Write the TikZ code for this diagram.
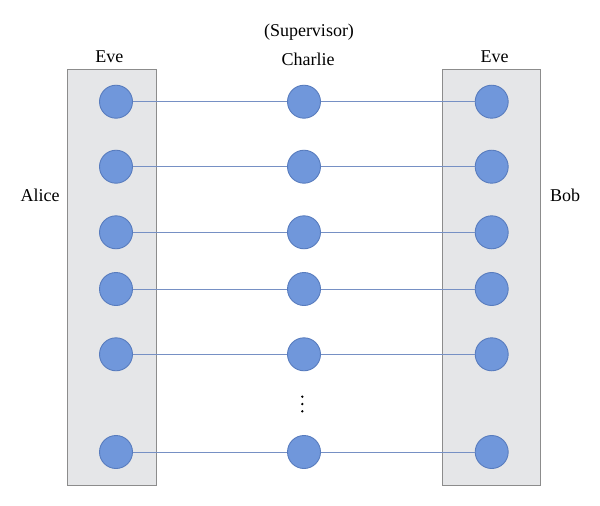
\documentclass[tikz,border=0pt]{standalone}
\usepackage{fontspec}
\setmainfont{Liberation Serif}
\usepackage{tikz}

\definecolor{qubitfill}{RGB}{112,151,219}
\definecolor{qubitdraw}{RGB}{88,124,190}
\definecolor{linkcolor}{RGB}{118,144,196}
\definecolor{boxfill}{RGB}{229,230,232}
\definecolor{boxdraw}{RGB}{140,140,140}

\begin{document}
\begin{tikzpicture}[x=1pt,y=-1pt,draw=linkcolor,line width=1pt]
        \tikzstyle{party box}=[
            rectangle,fill=boxfill,draw=boxdraw,line width=1.2pt,inner sep=0pt
        ]
        \tikzstyle{qubit}=[
            circle,fill=qubitfill,draw=qubitdraw,line width=0.9pt,
            minimum size=33pt,inner sep=0pt
        ]
        \tikzstyle{annot}=[font=\fontsize{18}{21}\selectfont, text=black]

        \useasboundingbox (0,0) rectangle (600,506);

        % Draw the boxes of Alice and Bob
        \node[party box, minimum width=89pt, minimum height=416pt]
            (AliceBox) at (112.2,277.2) {};
        \node[party box, minimum width=98pt, minimum height=416pt]
            (BobBox) at (491.7,277.2) {};

        % Draw the qubits of every row
        \foreach \id / \y in {1/101.7, 2/166.7, 3/232.3, 4/289, 5/354.3, 6/452}
        {
            \node[qubit] (A-\id) at (116,\y) {};
            \node[qubit] (C-\id) at (304,\y) {};
            \node[qubit] (B-\id) at (491.7,\y) {};
        }

        % Connect Alice to Charlie and Charlie to Bob
        \foreach \id in {1,...,6}
        {
            \path (A-\id) edge (C-\id);
            \path (C-\id) edge (B-\id);
        }

        % Vertical dots between the last two rows
        \foreach \id / \y in {1/396.7, 2/404, 3/411.3}
            \fill[black] (302.3,\y) circle (1.3pt) coordinate (dot-\id);

        % Annotate the parties
        \node[annot] (sup) at (309,31.7) {(Supervisor)};
        \node[annot] (charlie) at (308,59) {Charlie};
        \node[annot] (eveA) at (109.3,57) {Eve};
        \node[annot] (eveB) at (494.5,57) {Eve};
        \node[annot] (alice) at (40,195) {Alice};
        \node[annot] (bob) at (565,195) {Bob};
    \end{tikzpicture}
\end{document}
